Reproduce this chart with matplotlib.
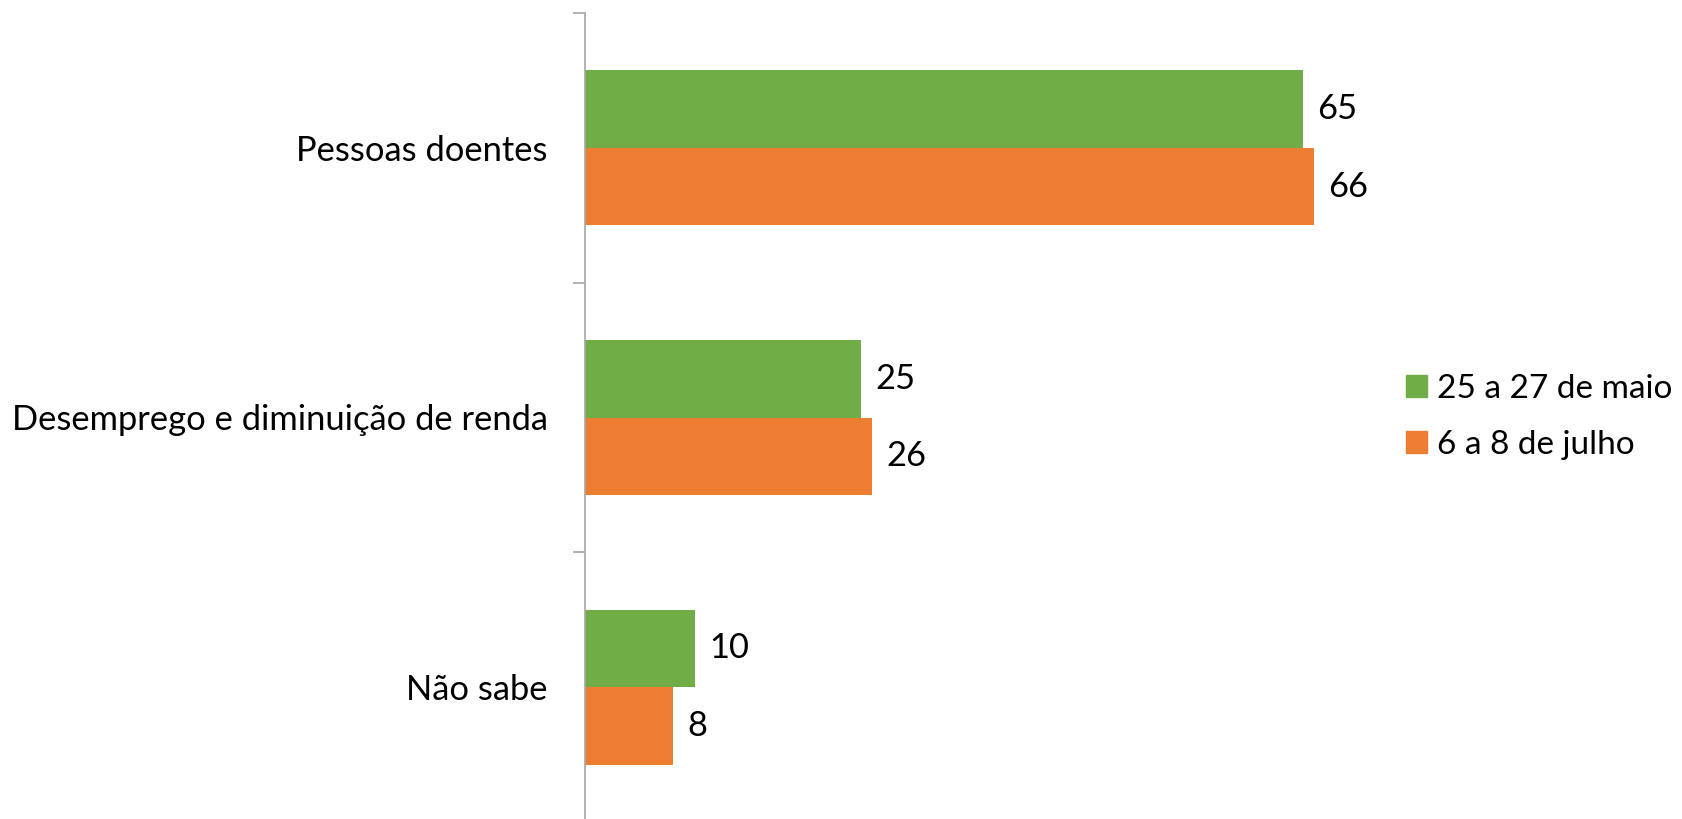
import numpy as np
import matplotlib
matplotlib.use('Agg')
import matplotlib.pyplot as plt
from matplotlib.patches import Patch

categories = ['Pessoas doentes', 'Desemprego e diminuição de renda', 'Não sabe']
series_names = ['25 a 27 de maio', '6 a 8 de julho']
maio = [65, 25, 10]
julho = [66, 26, 8]
colors = ['#70AD47', '#ED7D31']

plt.rcParams['font.family'] = ['Lato', 'DejaVu Sans']
fs = 24.8

fig = plt.figure(figsize=(16.82, 8.19), dpi=100)
ax = fig.add_axes([585 / 1682, -3 / 819, 773 / 1682, 809 / 819])

y = np.arange(len(categories))
h = 0.2876
bars1 = ax.barh(y - h / 2, maio, height=h, color=colors[0])
bars2 = ax.barh(y + h / 2, julho, height=h, color=colors[1])

for bars, vals in [(bars1, maio), (bars2, julho)]:
    for b, v in zip(bars, vals):
        ax.annotate(str(v), (b.get_width(), b.get_y() + b.get_height() / 2),
                    xytext=(10, 0), textcoords='offset points',
                    ha='left', va='center', fontsize=fs)

ax.set_xlim(0, 70)
ax.set_ylim(2.5, -0.5)
ax.set_yticks(y)
ax.set_yticklabels(categories, fontsize=fs)
ax.set_yticks([-0.5, 0.5, 1.5, 2.5], minor=True)
ax.tick_params(axis='y', which='major', length=0, pad=27)
ax.tick_params(axis='y', which='minor', length=8.6, width=1.2, color='#A6A6A6')
ax.set_xticks([])
for s in ['top', 'right', 'bottom']:
    ax.spines[s].set_visible(False)
ax.spines['left'].set_color('#A6A6A6')
ax.spines['left'].set_linewidth(1.2)

handles = [Patch(color=c) for c in colors]
fig.legend(handles, series_names, loc='center left', bbox_to_anchor=(1406 / 1682, 1 - 417 / 819),
           frameon=False, fontsize=24, handlelength=0.64, handleheight=0.64,
           handletextpad=0.3, labelspacing=0.78, borderpad=0, borderaxespad=0)

fig.savefig('out.png', dpi=100)
